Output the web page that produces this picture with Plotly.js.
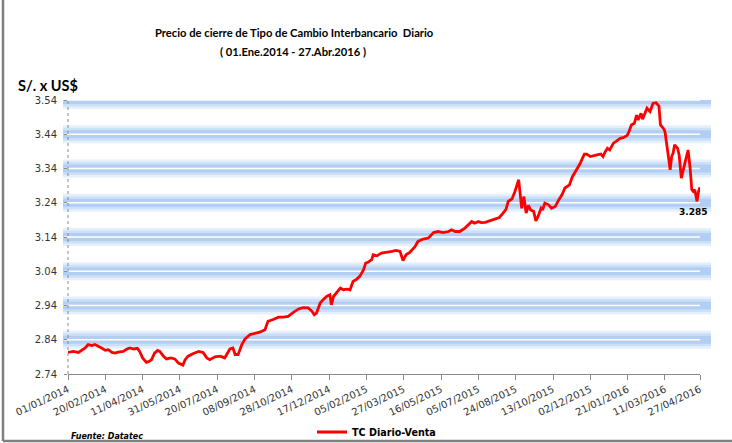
<!DOCTYPE html>
<html>
<head>
<meta charset="utf-8">
<script src="https://cdn.plot.ly/plotly-3.0.1.min.js"></script>
<style>
html,body{margin:0;padding:0;background:#fff;}
#chart{width:732px;height:443px;}
</style>
</head>
<body>
<div id="chart"></div>
<script>
// ---- Data ----
const dates = [
"2014-01-01","2014-01-08","2014-01-15","2014-01-19","2014-01-24","2014-01-28","2014-02-02","2014-02-06","2014-02-11","2014-02-15",
"2014-02-20","2014-02-24","2014-03-01","2014-03-05","2014-03-09","2014-03-16","2014-03-21","2014-03-25","2014-03-30","2014-04-04",
"2014-04-07","2014-04-11","2014-04-16","2014-04-20","2014-04-23","2014-04-27","2014-05-01","2014-05-04","2014-05-09","2014-05-13",
"2014-05-19","2014-05-24","2014-05-29","2014-06-04","2014-06-07","2014-06-11","2014-06-18","2014-06-25","2014-07-01","2014-07-06",
"2014-07-10","2014-07-17","2014-07-24","2014-07-30","2014-08-06","2014-08-10","2014-08-13","2014-08-17","2014-08-22","2014-08-26",
"2014-09-02","2014-09-09","2014-09-15","2014-09-22","2014-09-26","2014-10-03","2014-10-10","2014-10-17","2014-10-23","2014-10-30",
"2014-11-06","2014-11-12","2014-11-19","2014-11-24","2014-11-27","2014-11-30","2014-12-05","2014-12-09","2014-12-14","2014-12-18",
"2014-12-20","2014-12-23","2014-12-27","2015-01-01","2015-01-05","2015-01-10","2015-01-14","2015-01-18","2015-01-23","2015-01-27",
"2015-02-01","2015-02-04","2015-02-07","2015-02-12","2015-02-14","2015-02-19","2015-02-25","2015-03-04","2015-03-11","2015-03-17",
"2015-03-22","2015-03-26","2015-03-30","2015-04-04","2015-04-11","2015-04-15","2015-04-22","2015-04-29","2015-05-06","2015-05-12",
"2015-05-19","2015-05-26","2015-05-30","2015-06-04","2015-06-10","2015-06-17","2015-06-22","2015-06-26","2015-06-30","2015-07-05",
"2015-07-09","2015-07-14","2015-07-21","2015-07-27","2015-08-02","2015-08-07","2015-08-11","2015-08-14","2015-08-19","2015-08-23",
"2015-08-28","2015-09-01","2015-09-04","2015-09-07","2015-09-10","2015-09-13","2015-09-17","2015-09-20","2015-09-23","2015-09-27",
"2015-09-29","2015-10-02","2015-10-07","2015-10-11","2015-10-16","2015-10-20","2015-10-25","2015-10-29","2015-11-04","2015-11-08",
"2015-11-14","2015-11-18","2015-11-24","2015-11-27","2015-12-02","2015-12-06","2015-12-11","2015-12-16","2015-12-19","2015-12-22",
"2015-12-25","2015-12-28","2016-01-02","2016-01-06","2016-01-11","2016-01-15","2016-01-20","2016-01-22","2016-01-26","2016-01-30",
"2016-02-02","2016-02-04","2016-02-08","2016-02-10","2016-02-13","2016-02-16","2016-02-20","2016-02-24","2016-02-28","2016-03-03",
"2016-03-05","2016-03-09","2016-03-11","2016-03-13","2016-03-16","2016-03-18","2016-03-20","2016-03-22","2016-03-24","2016-03-28",
"2016-03-30","2016-04-02","2016-04-06","2016-04-08","2016-04-11","2016-04-14","2016-04-16","2016-04-18","2016-04-20","2016-04-23",
"2016-04-25","2016-04-27"
];
const tcVenta = [
2.803,2.806,2.803,2.809,2.816,2.826,2.823,2.826,2.821,2.816,
2.809,2.811,2.803,2.801,2.804,2.806,2.813,2.816,2.813,2.815,
2.806,2.787,2.774,2.777,2.782,2.801,2.809,2.806,2.792,2.784,
2.787,2.784,2.772,2.766,2.782,2.792,2.800,2.806,2.803,2.787,
2.782,2.790,2.792,2.787,2.813,2.816,2.797,2.797,2.826,2.842,
2.855,2.858,2.862,2.869,2.894,2.899,2.906,2.906,2.908,2.920,
2.930,2.934,2.933,2.923,2.913,2.918,2.947,2.957,2.967,2.971,
2.942,2.967,2.978,2.991,2.986,2.988,2.986,3.010,3.017,3.025,
3.044,3.064,3.066,3.074,3.088,3.085,3.093,3.095,3.098,3.101,
3.098,3.071,3.088,3.095,3.112,3.127,3.134,3.137,3.153,3.156,
3.153,3.156,3.161,3.156,3.156,3.166,3.176,3.185,3.180,3.185,
3.182,3.183,3.188,3.192,3.197,3.210,3.221,3.244,3.251,3.273,
3.307,3.224,3.258,3.210,3.232,3.219,3.215,3.187,3.200,3.224,
3.219,3.239,3.234,3.224,3.229,3.246,3.263,3.283,3.292,3.316,
3.339,3.353,3.382,3.382,3.375,3.378,3.380,3.382,3.375,3.389,
3.399,3.394,3.414,3.420,3.428,3.430,3.436,3.443,3.467,3.472,
3.496,3.482,3.501,3.484,3.499,3.516,3.506,3.530,3.532,3.522,
3.467,3.457,3.448,3.409,3.370,3.336,3.375,3.385,3.409,3.399,
3.380,3.312,3.346,3.365,3.394,3.336,3.278,3.273,3.278,3.244,
3.273,3.285
];
const xTickText = ["01/01/2014","20/02/2014","11/04/2014","31/05/2014","20/07/2014","08/09/2014",
"28/10/2014","17/12/2014","05/02/2015","27/03/2015","16/05/2015","05/07/2015","24/08/2015",
"13/10/2015","02/12/2015","21/01/2016","11/03/2016","27/04/2016"];
const gridVals = [2.84, 2.94, 3.04, 3.14, 3.24, 3.34, 3.44, 3.54];
const lastLabel = "3.285";
const seriesName = "TC Diario-Venta";

// ---- Build ----
const xTickVals = xTickText.map(t => { const p = t.split("/"); return p[2] + "-" + p[1] + "-" + p[0]; });

const L = 68, R = 700, T = 100, B = 374;
const px = v => (v - L) / (R - L);
const py = v => (B - v) / (B - T);

const shapes = [];
gridVals.forEach(g => {
  const base = {type: "line", xref: "paper", yref: "y", x0: px(63), x1: px(711), y0: g, y1: g, layer: "below"};
  shapes.push(Object.assign({}, base, {line: {color: "rgba(200,222,248,0.45)", width: 18}}));
  shapes.push(Object.assign({}, base, {line: {color: "rgba(178,208,244,0.5)", width: 13}}));
  shapes.push(Object.assign({}, base, {line: {color: "rgba(165,198,240,0.65)", width: 8}}));
  shapes.push({type: "line", xref: "paper", yref: "y", x0: px(64), x1: px(700), y0: g, y1: g, layer: "below",
    line: {color: "#ffffff", width: 1.4}});
});
// dotted y axis
shapes.push({type: "line", xref: "paper", yref: "paper", x0: 0, x1: 0, y0: 0, y1: py(98),
  line: {color: "#8a8a8a", width: 1, dash: "dot"}});
// outer frame (left and bottom)
shapes.push({type: "line", xref: "paper", yref: "paper", x0: px(3), x1: px(3), y0: py(441), y1: py(-2),
  line: {color: "#7f7f7f", width: 2.5}});
shapes.push({type: "line", xref: "paper", yref: "paper", x0: px(3), x1: px(734), y0: py(441), y1: py(441),
  line: {color: "#7f7f7f", width: 2.5}});

const titleFont = {family: "Lato, sans-serif", size: 11.2, color: "#000"};

const data = [{
  x: dates, y: tcVenta, type: "scatter", mode: "lines", name: seriesName,
  line: {color: "#ff0000", width: 2.8}
}];

const layout = {
  width: 732, height: 443,
  margin: {l: L, r: 732 - R, t: T, b: 443 - B, pad: 0, autoexpand: false},
  paper_bgcolor: "#ffffff", plot_bgcolor: "rgba(0,0,0,0)",
  showlegend: true,
  legend: {orientation: "h", x: px(312), xanchor: "left", y: py(432), yanchor: "middle",
    font: {family: "'DejaVu Sans', sans-serif", size: 9.6, color: "#000", weight: "bold"},
    bgcolor: "rgba(0,0,0,0)"},
  xaxis: {
    type: "date", range: ["2014-01-01", "2016-04-27"], automargin: false,
    tickvals: xTickVals, ticktext: xTickText, tickangle: -25,
    tickfont: {family: "'DejaVu Sans', sans-serif", size: 10, color: "#333"},
    showgrid: false, zeroline: false, showline: true, linecolor: "#8a8a8a", linewidth: 1,
    ticks: "outside", ticklen: 5, tickcolor: "#8a8a8a", fixedrange: true
  },
  yaxis: {
    range: [2.74, 3.54], tick0: 2.74, dtick: 0.1, tickformat: ".2f", automargin: false,
    tickfont: {family: "'DejaVu Sans', sans-serif", size: 10, color: "#333"},
    showgrid: false, zeroline: false, showline: false,
    ticks: "outside", ticklen: 3, tickcolor: "#8a8a8a", ticklabelstandoff: 5, fixedrange: true
  },
  shapes: shapes,
  annotations: [
    {xref: "paper", yref: "paper", x: px(294), y: py(32), xanchor: "center", yanchor: "middle", showarrow: false,
      text: "<b>Precio de cierre de Tipo de Cambio Interbancario  Diario</b>", font: titleFont},
    {xref: "paper", yref: "paper", x: px(293), y: py(51), xanchor: "center", yanchor: "middle", showarrow: false,
      text: "<b>( 01.Ene.2014 - 27.Abr.2016 )</b>", font: titleFont},
    {xref: "paper", yref: "paper", x: px(16), y: py(86), xanchor: "left", yanchor: "middle", showarrow: false,
      text: "<b>S/. x US$</b>", font: {family: "Lato, sans-serif", size: 14.5, color: "#000"}},
    {xref: "paper", yref: "paper", x: px(69), y: py(436), xanchor: "left", yanchor: "middle", showarrow: false,
      text: "<b><i>Fuente: Datatec</i></b>", font: {family: "'DejaVu Sans', sans-serif", size: 8, color: "#000"}},
    {xref: "x", yref: "y", x: dates[dates.length - 1], y: tcVenta[tcVenta.length - 1], xanchor: "right", yanchor: "middle",
      xshift: 9, yshift: -25, showarrow: false,
      text: "<b>" + lastLabel + "</b>", font: {family: "'DejaVu Sans', sans-serif", size: 9, color: "#000"}}
  ]
};

Plotly.newPlot("chart", data, layout, {displayModeBar: false, staticPlot: true});
</script>
</body>
</html>
